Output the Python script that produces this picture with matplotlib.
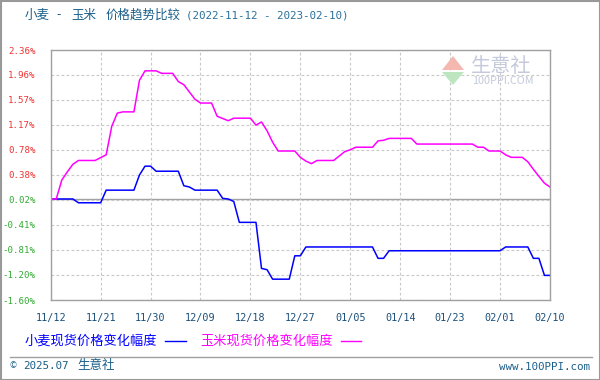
import numpy as np
import pandas as pd
import matplotlib
matplotlib.use("Agg")
import matplotlib.pyplot as plt
from matplotlib.patches import Polygon

plt.rcParams['font.family'] = ['Noto Sans CJK SC', 'DejaVu Sans']

""" Data read off the reference chart (percent change since 2022-11-12) """
wheat_dates = ['2022-11-12', '2022-11-16', '2022-11-17', '2022-11-21', '2022-11-22',
               '2022-11-27', '2022-11-28', '2022-11-29', '2022-11-30', '2022-12-01',
               '2022-12-05', '2022-12-06', '2022-12-07', '2022-12-08', '2022-12-12',
               '2022-12-13', '2022-12-14', '2022-12-15', '2022-12-16', '2022-12-19',
               '2022-12-20', '2022-12-21', '2022-12-22', '2022-12-25', '2022-12-26',
               '2022-12-27', '2022-12-28', '2023-01-09', '2023-01-10', '2023-01-11',
               '2023-01-12', '2023-02-01', '2023-02-02', '2023-02-06', '2023-02-07',
               '2023-02-08', '2023-02-09', '2023-02-10']
wheat_vals = [0.00, 0.00, -0.06, -0.06, 0.14,
              0.14, 0.38, 0.52, 0.52, 0.44,
              0.44, 0.21, 0.19, 0.14, 0.14,
              0.01, 0.00, -0.04, -0.37, -0.37,
              -1.10, -1.12, -1.27, -1.27, -0.90,
              -0.90, -0.76, -0.76, -0.94, -0.94,
              -0.82, -0.82, -0.76, -0.76, -0.94,
              -0.94, -1.21, -1.21]

corn_dates = ['2022-11-12', '2022-11-13', '2022-11-14', '2022-11-15', '2022-11-16',
              '2022-11-17', '2022-11-20', '2022-11-22', '2022-11-23', '2022-11-24',
              '2022-11-25', '2022-11-27', '2022-11-28', '2022-11-29', '2022-12-01',
              '2022-12-02', '2022-12-04', '2022-12-05', '2022-12-06', '2022-12-08',
              '2022-12-09', '2022-12-11', '2022-12-12', '2022-12-14', '2022-12-15',
              '2022-12-18', '2022-12-19', '2022-12-20', '2022-12-21', '2022-12-22',
              '2022-12-23', '2022-12-26', '2022-12-27', '2022-12-28', '2022-12-29',
              '2022-12-30', '2023-01-02', '2023-01-03', '2023-01-04', '2023-01-05',
              '2023-01-06', '2023-01-09', '2023-01-10', '2023-01-11', '2023-01-12',
              '2023-01-16', '2023-01-17', '2023-01-27', '2023-01-28', '2023-01-29',
              '2023-01-30', '2023-02-01', '2023-02-02', '2023-02-03', '2023-02-05',
              '2023-02-06', '2023-02-07', '2023-02-08', '2023-02-09', '2023-02-10']
corn_vals = [0.00, 0.00, 0.30, 0.43, 0.55,
             0.61, 0.61, 0.70, 1.15, 1.36,
             1.38, 1.38, 1.88, 2.03, 2.03,
             1.99, 1.99, 1.86, 1.81, 1.58,
             1.52, 1.52, 1.31, 1.24, 1.28,
             1.28, 1.17, 1.22, 1.08, 0.90,
             0.76, 0.76, 0.66, 0.60, 0.56,
             0.61, 0.61, 0.68, 0.75, 0.78,
             0.82, 0.82, 0.92, 0.93, 0.96,
             0.96, 0.87, 0.87, 0.82, 0.82,
             0.76, 0.76, 0.70, 0.66, 0.66,
             0.59, 0.47, 0.36, 0.25, 0.19]

x_ticks = ['2022-11-12', '2022-11-21', '2022-11-30', '2022-12-09', '2022-12-18', '2022-12-27',
           '2023-01-05', '2023-01-14', '2023-01-23', '2023-02-01', '2023-02-10']
x_labels = ['11/12', '11/21', '11/30', '12/09', '12/18', '12/27',
            '01/05', '01/14', '01/23', '02/01', '02/10']
y_labels = ['-1.60%', '-1.20%', '-0.81%', '-0.41%', '0.02%', '0.38%',
            '0.78%', '1.17%', '1.57%', '1.96%', '2.36%']

title_parts = ['小麦', '-', '玉米', '价格趋势比较']
title_range = '(2022-11-12 - 2023-02-10)'
wheat_name = '小麦现货价格变化幅度'
corn_name = '玉米现货价格变化幅度'

""" Figure """
fig = plt.figure(figsize=(6, 3.8), dpi=100)
W, H = 600, 380
ax = fig.add_axes([50.7 / W, 80 / H, 499.3 / W, 250 / H])

ax.plot(pd.to_datetime(wheat_dates), wheat_vals, color='#0000ff', lw=1.1)
ax.plot(pd.to_datetime(corn_dates), corn_vals, color='#ff00ff', lw=1.1)

yt = np.linspace(-1.60, 2.36, 11)
ax.set_ylim(-1.60, 2.36)
ax.set_yticks(yt)
ax.set_yticklabels(y_labels, family='DejaVu Sans Mono', fontsize=6.6)
for lab, v in zip(ax.get_yticklabels(), yt):
    lab.set_color('#ee3333' if v > 0.1 else '#33aa33')

xt = pd.to_datetime(x_ticks)
ax.set_xlim(xt[0], xt[-1])
ax.set_xticks(xt)
ax.set_xticklabels(x_labels, family='DejaVu Sans Mono', fontsize=7.3, color='#1a4f7a')

ax.tick_params(axis='y', length=0, pad=11)
ax.tick_params(axis='x', length=0, pad=9)
ax.grid(True, color='#c8c8c8', linestyle=(0, (2.5, 2)), lw=0.8)
ax.axhline(0, color='#a0a0a0', lw=1.0, zorder=1.5)
for s in ax.spines.values():
    s.set_color('#a0a0a0')
    s.set_linewidth(1.0)

""" Watermark """
fig.text(471 / W, 1 - 66 / H, '生意社', fontsize=14.5, color='#c4cadc', va='center', ha='left')
fig.text(472 / W, 1 - 81 / H, '100PPI.COM', fontsize=7.8, color='#c4cadc', va='center', ha='left')
fig.patches.append(Polygon([(442 / W, 1 - 70 / H), (453 / W, 1 - 56 / H), (464 / W, 1 - 70 / H)],
                           closed=True, transform=fig.transFigure, facecolor='#f4b8b0', edgecolor='none'))
fig.patches.append(Polygon([(442 / W, 1 - 72 / H), (453 / W, 1 - 85 / H), (464 / W, 1 - 72 / H)],
                           closed=True, transform=fig.transFigure, facecolor='#bde6c0', edgecolor='none'))

""" Texts """
for part, px in zip(title_parts, [25, 56, 71, 106]):
    fig.text(px / W, 1 - 15 / H, part, fontsize=9, color='#1a5f8a', va='center')
fig.text(186 / W, 1 - 15 / H, title_range, fontsize=7.8, color='#2a6f9a', va='center',
         family='DejaVu Sans Mono')

fig.text(25 / W, 1 - 341 / H, wheat_name, fontsize=9.5, color='#0000ff', va='center')
fig.add_artist(plt.Line2D([165 / W, 186 / W], [1 - 341 / H] * 2, color='#0000ff', lw=1.0))
fig.text(200 / W, 1 - 341 / H, corn_name, fontsize=9.5, color='#ff00ff', va='center')
fig.add_artist(plt.Line2D([341 / W, 361 / W], [1 - 341 / H] * 2, color='#ff00ff', lw=1.0))

fig.add_artist(plt.Line2D([10 / W, 592 / W], [1 - 356.5 / H] * 2, color='#a0a0a0', lw=1.0))
fig.text(10 / W, 1 - 366 / H, '©', fontsize=6, color='#1a5f8a', va='center')
fig.text(23 / W, 1 - 366 / H, '2025.07', fontsize=7.8, color='#1a5f8a', va='center',
         family='DejaVu Sans Mono')
fig.text(77 / W, 1 - 366 / H, '生意社', fontsize=9, color='#1a5f8a', va='center')
fig.text(590 / W, 1 - 367 / H, 'www.100PPI.com', fontsize=7.8, color='#1a5f8a', va='center',
         ha='right', family='DejaVu Sans Mono')

# outer frame
fig.add_artist(plt.Rectangle((0.5 / W, 0.5 / H), 599 / W, 379 / H, transform=fig.transFigure,
                             fill=False, edgecolor='#999999', lw=1.5))

fig.savefig('out.png', dpi=100)
